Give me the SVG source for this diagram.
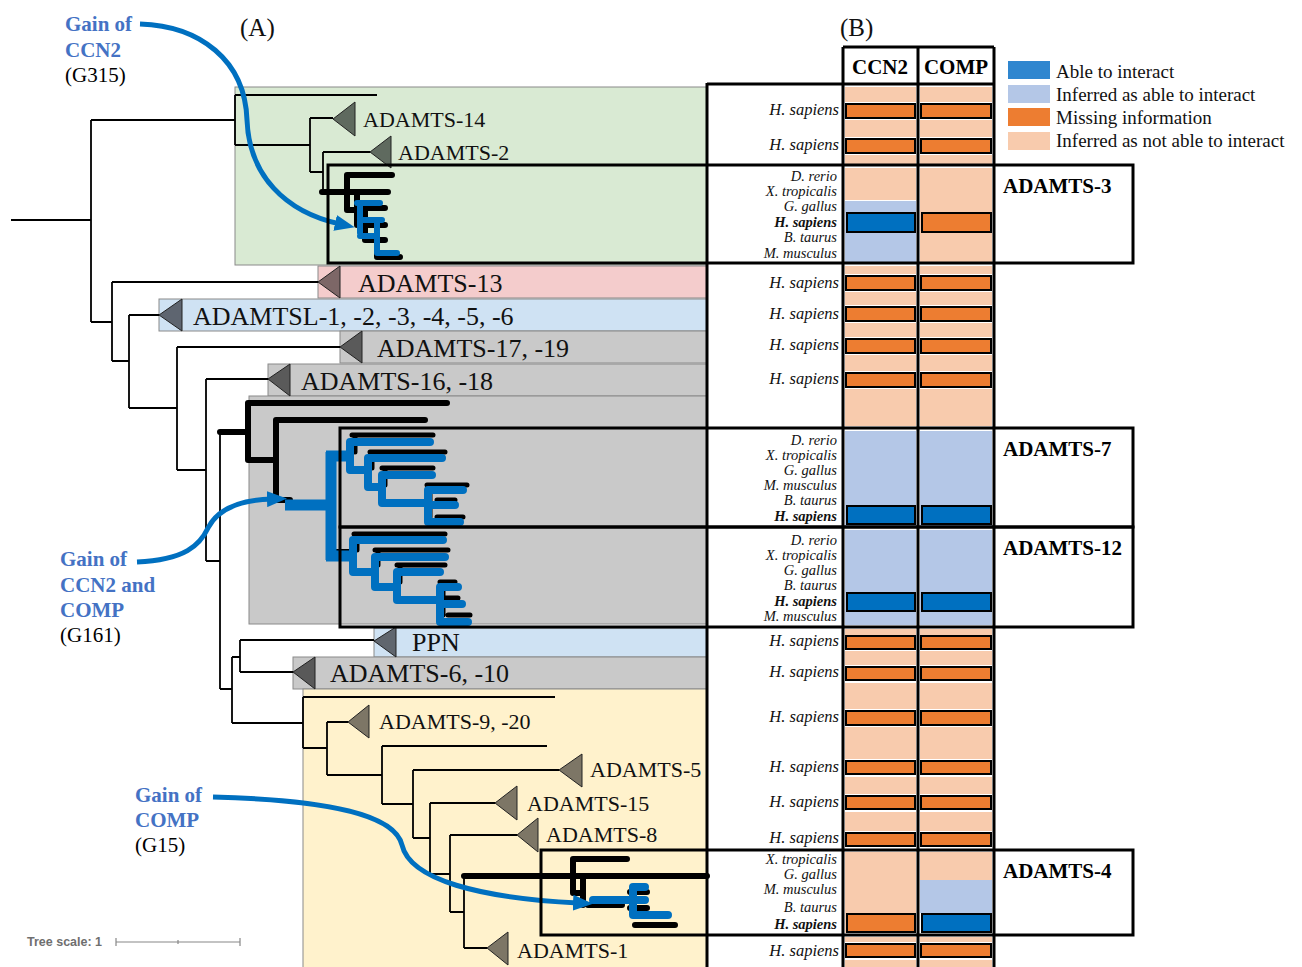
<svg xmlns="http://www.w3.org/2000/svg" width="1302" height="967" viewBox="0 0 1302 967">
<style>
.bg{stroke:#8a8a8a;stroke-width:1}
.br{fill:none;stroke:#000;stroke-width:1.8}
.thk{fill:none;stroke:#000;stroke-width:6;stroke-linecap:round}
.thk2{fill:none;stroke:#000;stroke-width:5;stroke-linecap:round}
.blu{fill:none;stroke:#0070c0;stroke-width:8;stroke-linecap:round;stroke-linejoin:round}
.blu2{fill:none;stroke:#0070c0;stroke-width:6;stroke-linecap:round;stroke-linejoin:round}
.tri{stroke:#222;stroke-width:1}
.lab{font-family:"Liberation Serif","Times New Roman",serif;font-size:26px;fill:#111}
.labs{font-family:"Liberation Serif","Times New Roman",serif;font-size:22px;fill:#111}
.sp{font-family:"Liberation Serif","Times New Roman",serif;font-style:italic;font-size:16.5px;text-anchor:end;fill:#111}
.st{font-size:14.5px}
.spb{font-weight:bold}
.box{fill:none;stroke:#000;stroke-width:3}
.pe{fill:#f8cbad}
.lb{fill:#b4c7e7}
.bar{fill:#ed7d31;stroke:#000;stroke-width:2}
.bb{fill:#0070c0;stroke:#000;stroke-width:2}
.gain{font-family:"Liberation Serif","Times New Roman",serif;font-weight:bold;font-size:21px;fill:#4472c4}
.gn{font-family:"Liberation Serif","Times New Roman",serif;font-size:21px;fill:#000}
.arr{fill:none;stroke:#0070c0;stroke-width:5}
.hd{font-family:"Liberation Serif","Times New Roman",serif;font-weight:bold;font-size:21px;text-anchor:middle;fill:#000}
.rl{font-family:"Liberation Serif","Times New Roman",serif;font-weight:bold;font-size:21px;fill:#000}
.lg{font-family:"Liberation Serif","Times New Roman",serif;font-size:19px;fill:#111}
.pl{font-family:"Liberation Serif","Times New Roman",serif;font-size:25px;fill:#111}
</style>
<defs>
<marker id="ah" viewBox="0 0 20 16" refX="5" refY="8" markerWidth="20" markerHeight="16" markerUnits="userSpaceOnUse" orient="auto">
<path d="M0,0 L20,8 L0,16 Z" fill="#0070c0"/>
</marker>
</defs>
<rect width="1302" height="967" fill="#fff"/>

<g id="backgrounds">
<rect class="bg" x="235" y="87" width="472" height="178" fill="#d9ead3"/>
<rect class="bg" x="318" y="266" width="389" height="32" fill="#f4cccc"/>
<rect class="bg" x="159" y="299" width="548" height="32" fill="#cfe2f3"/>
<rect class="bg" x="340" y="331" width="367" height="32" fill="#c9c9c9"/>
<rect class="bg" x="268" y="364" width="439" height="32" fill="#c9c9c9"/>
<rect class="bg" x="249" y="396" width="458" height="228" fill="#c9c9c9"/>
<rect class="bg" x="374" y="628" width="333" height="29" fill="#cfe2f3"/>
<rect class="bg" x="293" y="657" width="414" height="32" fill="#c9c9c9"/>
<rect class="bg" x="303" y="689" width="404" height="280" fill="#fff2cc"/>
</g>

<g id="connectors">
<path class="br" d="M11,220 H91 M91,120 V322 M91,120 H235 M235,95 V145 M235,95 H377 M235,145 H310 M310,118 V172 M310,118 H333 M310,172 H323 M323,152 V192 M323,152 H370"/>
<path class="br" d="M91,322 H112 M112,282 V361 M112,282 H318 M112,361 H129 M129,315 V408 M129,315 H159 M129,408 H177 M177,347 V470 M177,347 H340 M177,470 H206 M206,379 V561 M206,379 H268 M206,561 H220 M220,432 V689 M220,689 H232 M232,657 V723 M232,657 H240 M240,640 V672 M240,640 H374 M240,672 H293 M232,723 H303 M303,697 V748 M303,697 H555 M303,748 H327 M327,722 V775 M327,722 H348 M327,775 H382 M382,746 V804 M382,746 H547 M382,804 H413 M413,770 V838 M413,770 H559 M413,838 H430 M430,803 V874 M430,803 H495 M430,874 H450 M450,835 V912 M450,835 H517 M450,912 H464 M464,874 V948 M464,948 H487"/>
<path class="thk" d="M322,192 H388 M347,175 V210 M347,175 H392 M347,210 H357 M357,208 H385 M357,192 V225 M357,225 H385 M365,208 V240 M365,240 H385 M377,225 V257 M377,257 H400"/>
<path class="blu2" d="M357,203 H380 M360,203 V233 M360,220 H382 M377,220 V253 M360,236 H377 M377,253 H397"/>
<path class="thk" d="M220,432 H248 M248,403 V460 M248,403 H447 M248,460 H276 M276,420 V500 M276,420 H425 M276,500 H290"/>
<path class="thk2" d="M352,435 H433 M355,435 V452 M370,452 H445 M372,452 V468 M382,468 H433 M385,468 V485 M427,485 H467 M430,485 V517 M437,500 H455 M437,517 H463"/>
<path class="thk2" d="M354,534 H445 M357,534 V550 M375,550 H448 M378,550 V565 M397,565 H445 M400,565 V582 M440,582 H455 M443,582 V615 M445,598 H458 M448,615 H470"/>
<path class="br" d="M330,452 H345 M335,452 V550 M335,550 H350"/>
<path class="blu" d="M350,442 H430 M350,442 V470 H368 M368,458 H442 M368,458 V487 H382 M382,475 H432 M382,475 V503 H428 M428,490 V522 M428,490 H463 M428,505 H455 M428,522 H460"/>
<path class="blu" d="M353,540 H443 M353,540 V572 H375 M375,557 H445 M375,557 V587 H397 M397,572 H440 M397,572 V600 H440 M440,587 V622 M440,587 H458 M440,604 H462 M440,622 H468"/>
<path class="blu" style="stroke-width:11;stroke-linecap:butt" d="M285,505 H331 M331,452 V560 M326,456 H350 M326,556 H353"/>
<path class="thk" d="M464,876 H707 M573,859 V893 M573,859 H627 M573,893 H583 M583,876 V905 M588,905 H622 M630,892 H647 M630,908 H647 M635,925 H675"/>
<path class="blu" d="M593,900 H633 M633,887 V915 M633,887 H645 M633,900 H645 M633,915 H668"/>
</g>

<g id="gain-ccn2">
<text class="gain" x="65" y="31">Gain of</text>
<text class="gain" x="65" y="57">CCN2</text>
<text class="gn" x="65" y="82">(G315)</text>
<path class="arr" d="M140,24 C 200,26 245,60 247,120 C 249,175 285,212 340,224" marker-end="url(#ah)"/>
</g>
<g id="gain-ccn2-comp">
<text class="gain" x="60" y="566">Gain of</text>
<text class="gain" x="60" y="592">CCN2 and</text>
<text class="gain" x="60" y="617">COMP</text>
<text class="gn" x="60" y="642">(G161)</text>
<path class="arr" d="M137,562 C 185,560 200,545 208,528 C 218,508 240,500 272,499" marker-end="url(#ah)"/>
</g>
<g id="gain-comp">
<text class="gain" x="135" y="802">Gain of</text>
<text class="gain" x="135" y="827">COMP</text>
<text class="gn" x="135" y="852">(G15)</text>
<path class="arr" d="M213,797 C 330,800 395,815 402,845 C 410,880 480,898 578,903" marker-end="url(#ah)"/>
</g>

<g id="n-adamts14"><polygon class="tri" points="333,119 355,102 355,136" fill="#5f6a5f"/><text class="labs" x="363" y="127">ADAMTS-14</text></g>
<g id="n-adamts2"><polygon class="tri" points="370,152 391,136 391,168" fill="#5f6a5f"/><text class="labs" x="398" y="160">ADAMTS-2</text></g>
<g id="n-adamts13"><polygon class="tri" points="318,282 340,266 340,298" fill="#7d6767"/><text class="lab" x="358" y="292">ADAMTS-13</text></g>
<g id="n-adamtsl"><polygon class="tri" points="159,315 182,299 182,331" fill="#5e6570"/><text class="lab" x="193" y="325">ADAMTSL-1, -2, -3, -4, -5, -6</text></g>
<g id="n-adamts17"><polygon class="tri" points="340,347 362,331 362,363" fill="#5a5a5a"/><text class="lab" x="377" y="357">ADAMTS-17, -19</text></g>
<g id="n-adamts16"><polygon class="tri" points="268,379 290,364 290,396" fill="#5a5a5a"/><text class="lab" x="301" y="390">ADAMTS-16, -18</text></g>
<g id="n-ppn"><polygon class="tri" points="374,641 396,627 396,657" fill="#60666e"/><text class="lab" x="412" y="651">PPN</text></g>
<g id="n-adamts6"><polygon class="tri" points="293,672 315,657 315,689" fill="#595959"/><text class="lab" x="330" y="682">ADAMTS-6, -10</text></g>
<g id="n-adamts9"><polygon class="tri" points="348,722 369,705 369,738" fill="#7d7666"/><text class="labs" x="379" y="729">ADAMTS-9, -20</text></g>
<g id="n-adamts5"><polygon class="tri" points="559,770 582,754 582,787" fill="#7d7666"/><text class="labs" x="590" y="777">ADAMTS-5</text></g>
<g id="n-adamts15"><polygon class="tri" points="495,803 517,786 517,820" fill="#7d7666"/><text class="labs" x="527" y="811">ADAMTS-15</text></g>
<g id="n-adamts8"><polygon class="tri" points="517,835 538,818 538,852" fill="#7d7666"/><text class="labs" x="546" y="842">ADAMTS-8</text></g>
<g id="n-adamts1"><polygon class="tri" points="487,948 508,932 508,965" fill="#7d7666"/><text class="labs" x="517" y="958">ADAMTS-1</text></g>

<text class="pl" x="240" y="36">(A)</text>
<text class="pl" x="840" y="36">(B)</text>

<g id="cells">
<g id="ccn2-col">
<rect class="pe" x="845" y="87" width="71" height="15"/>
<rect class="pe" x="845" y="120" width="71" height="17"/>
<rect class="pe" x="845" y="155" width="71" height="9"/>
<rect class="pe" x="845" y="168" width="71" height="32"/>
<rect class="lb" x="845" y="201" width="71" height="61"/>
<rect class="pe" x="845" y="266" width="71" height="8"/>
<rect class="pe" x="845" y="292" width="71" height="13"/>
<rect class="pe" x="845" y="323" width="71" height="14"/>
<rect class="pe" x="845" y="355" width="71" height="16"/>
<rect class="pe" x="845" y="389" width="71" height="37"/>
<rect class="lb" x="845" y="431" width="71" height="95"/>
<rect class="lb" x="845" y="530" width="71" height="95"/>
<rect class="pe" x="845" y="629" width="71" height="6"/>
<rect class="pe" x="845" y="651" width="71" height="14"/>
<rect class="pe" x="845" y="683" width="71" height="26"/>
<rect class="pe" x="845" y="727" width="71" height="32"/>
<rect class="pe" x="845" y="777" width="71" height="17"/>
<rect class="pe" x="845" y="812" width="71" height="19"/>
<rect class="pe" x="845" y="852" width="71" height="81"/>
<rect class="pe" x="845" y="937" width="71" height="5"/>
<rect class="pe" x="845" y="960" width="71" height="7"/>
</g>
<g id="comp-col">
<rect class="pe" x="920" y="87" width="72" height="15"/>
<rect class="pe" x="920" y="120" width="72" height="17"/>
<rect class="pe" x="920" y="155" width="72" height="9"/>
<rect class="pe" x="920" y="168" width="72" height="94"/>
<rect class="pe" x="920" y="266" width="72" height="8"/>
<rect class="pe" x="920" y="292" width="72" height="13"/>
<rect class="pe" x="920" y="323" width="72" height="14"/>
<rect class="pe" x="920" y="355" width="72" height="16"/>
<rect class="pe" x="920" y="389" width="72" height="37"/>
<rect class="lb" x="920" y="431" width="72" height="95"/>
<rect class="lb" x="920" y="530" width="72" height="95"/>
<rect class="pe" x="920" y="629" width="72" height="6"/>
<rect class="pe" x="920" y="651" width="72" height="14"/>
<rect class="pe" x="920" y="683" width="72" height="26"/>
<rect class="pe" x="920" y="727" width="72" height="32"/>
<rect class="pe" x="920" y="777" width="72" height="17"/>
<rect class="pe" x="920" y="812" width="72" height="19"/>
<rect class="pe" x="920" y="852" width="72" height="28"/>
<rect class="lb" x="920" y="880" width="72" height="33"/>
<rect class="pe" x="920" y="937" width="72" height="5"/>
<rect class="pe" x="920" y="960" width="72" height="7"/>
</g>
<g id="bars">
<rect class="bar" x="846" y="104" width="69" height="14"/><rect class="bar" x="921" y="104" width="70" height="14"/>
<rect class="bar" x="846" y="139" width="69" height="14"/><rect class="bar" x="921" y="139" width="70" height="14"/>
<rect class="bb" x="847" y="213" width="68" height="19"/><rect class="bar" x="922" y="213" width="69" height="19"/>
<rect class="bar" x="846" y="276" width="69" height="14"/><rect class="bar" x="921" y="276" width="70" height="14"/>
<rect class="bar" x="846" y="307" width="69" height="14"/><rect class="bar" x="921" y="307" width="70" height="14"/>
<rect class="bar" x="846" y="339" width="69" height="14"/><rect class="bar" x="921" y="339" width="70" height="14"/>
<rect class="bar" x="846" y="373" width="69" height="14"/><rect class="bar" x="921" y="373" width="70" height="14"/>
<rect class="bb" x="847" y="506" width="68" height="18"/><rect class="bb" x="922" y="506" width="69" height="18"/>
<rect class="bb" x="847" y="593" width="68" height="18"/><rect class="bb" x="922" y="593" width="69" height="18"/>
<rect class="bar" x="846" y="636" width="69" height="13"/><rect class="bar" x="921" y="636" width="70" height="13"/>
<rect class="bar" x="846" y="667" width="69" height="13"/><rect class="bar" x="921" y="667" width="70" height="13"/>
<rect class="bar" x="846" y="711" width="69" height="14"/><rect class="bar" x="921" y="711" width="70" height="14"/>
<rect class="bar" x="846" y="761" width="69" height="13"/><rect class="bar" x="921" y="761" width="70" height="13"/>
<rect class="bar" x="846" y="796" width="69" height="13"/><rect class="bar" x="921" y="796" width="70" height="13"/>
<rect class="bar" x="846" y="833" width="69" height="13"/><rect class="bar" x="921" y="833" width="70" height="13"/>
<rect class="bar" x="847" y="914" width="68" height="18"/><rect class="bb" x="922" y="914" width="69" height="18"/>
<rect class="bar" x="846" y="944" width="69" height="13"/><rect class="bar" x="921" y="944" width="70" height="13"/>
</g>
</g>

<g id="frame">
<path class="box" d="M707,83 V967 M707,84 H994 M843,47 V967 M918,47 V967 M994,47 V967 M843,47 H994"/>
<text class="hd" x="880" y="74">CCN2</text>
<text class="hd" x="956" y="74">COMP</text>
</g>

<g id="species">
<text class="sp" x="839" y="115">H. sapiens</text>
<text class="sp" x="839" y="150">H. sapiens</text>
<text class="sp st" x="837" y="181">D. rerio</text>
<text class="sp st" x="837" y="196">X. tropicalis</text>
<text class="sp st" x="837" y="211">G. gallus</text>
<text class="sp st spb" x="837" y="227">H. sapiens</text>
<text class="sp st" x="837" y="242">B. taurus</text>
<text class="sp st" x="837" y="258">M. musculus</text>
<text class="sp" x="839" y="288">H. sapiens</text>
<text class="sp" x="839" y="319">H. sapiens</text>
<text class="sp" x="839" y="350">H. sapiens</text>
<text class="sp" x="839" y="384">H. sapiens</text>
<text class="sp st" x="837" y="445">D. rerio</text>
<text class="sp st" x="837" y="460">X. tropicalis</text>
<text class="sp st" x="837" y="475">G. gallus</text>
<text class="sp st" x="837" y="490">M. musculus</text>
<text class="sp st" x="837" y="505">B. taurus</text>
<text class="sp st spb" x="837" y="521">H. sapiens</text>
<text class="sp st" x="837" y="545">D. rerio</text>
<text class="sp st" x="837" y="560">X. tropicalis</text>
<text class="sp st" x="837" y="575">G. gallus</text>
<text class="sp st" x="837" y="590">B. taurus</text>
<text class="sp st spb" x="837" y="606">H. sapiens</text>
<text class="sp st" x="837" y="621">M. musculus</text>
<text class="sp" x="839" y="646">H. sapiens</text>
<text class="sp" x="839" y="677">H. sapiens</text>
<text class="sp" x="839" y="722">H. sapiens</text>
<text class="sp" x="839" y="772">H. sapiens</text>
<text class="sp" x="839" y="807">H. sapiens</text>
<text class="sp" x="839" y="843">H. sapiens</text>
<text class="sp st" x="837" y="864">X. tropicalis</text>
<text class="sp st" x="837" y="879">G. gallus</text>
<text class="sp st" x="837" y="894">M. musculus</text>
<text class="sp st" x="837" y="912">B. taurus</text>
<text class="sp st spb" x="837" y="929">H. sapiens</text>
<text class="sp" x="839" y="956">H. sapiens</text>
</g>

<g id="adamts3"><rect class="box" x="328" y="165" width="805" height="98"/><text class="rl" x="1003" y="193">ADAMTS-3</text></g>
<g id="adamts7"><rect class="box" x="340" y="428" width="793" height="99"/><text class="rl" x="1003" y="456">ADAMTS-7</text></g>
<g id="adamts12"><rect class="box" x="340" y="527" width="793" height="100"/><text class="rl" x="1003" y="555">ADAMTS-12</text></g>
<g id="adamts4"><rect class="box" x="541" y="850" width="592" height="85"/><text class="rl" x="1003" y="878">ADAMTS-4</text></g>

<g id="legend">
<rect x="1008" y="61" width="42" height="18" fill="#2f86cf"/>
<rect x="1008" y="85" width="42" height="18" fill="#b4c7e7"/>
<rect x="1008" y="108" width="42" height="18" fill="#ed7d31"/>
<rect x="1008" y="132" width="42" height="18" fill="#f8cbad"/>
<text class="lg" x="1056" y="78">Able to interact</text>
<text class="lg" x="1056" y="101">Inferred as able to interact</text>
<text class="lg" x="1056" y="124">Missing information</text>
<text class="lg" x="1056" y="147">Inferred as not able to interact</text>
</g>

<g id="tree-scale">
<text x="27" y="946" font-family="Liberation Sans, Arial, sans-serif" font-weight="bold" font-size="12.5" fill="#6f6f6f">Tree scale: 1</text>
<path d="M116,942 H240 M116,938 V946 M240,938 V946 M178,940 V944" stroke="#888" stroke-width="1.2" fill="none"/>
</g>
</svg>
